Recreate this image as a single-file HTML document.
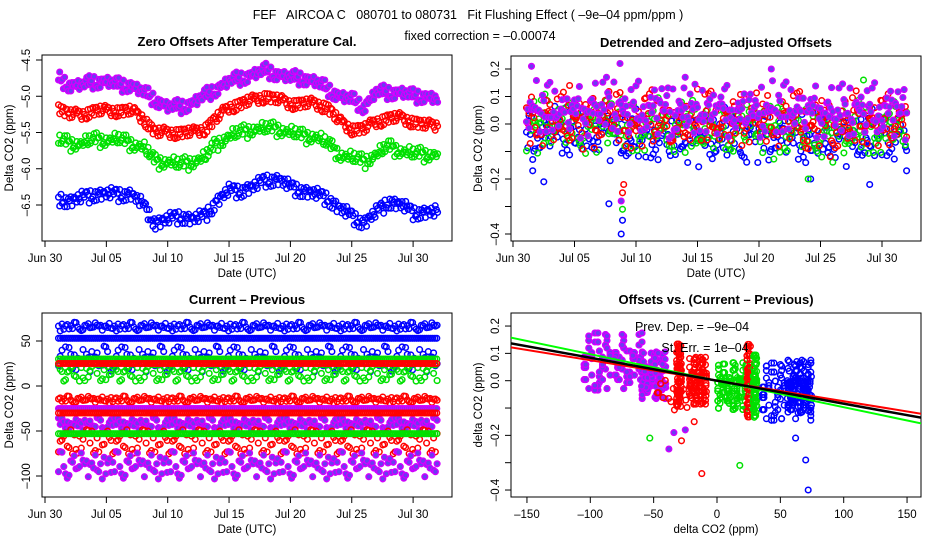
<!DOCTYPE html>
<html><head><meta charset="utf-8">
<style>
html,body{margin:0;padding:0;background:#fff;}
svg{display:block;font-family:"Liberation Sans",sans-serif;}
</style></head>
<body>
<svg id="c" width="936" height="540" viewBox="0 0 936 540" xmlns="http://www.w3.org/2000/svg">
<rect width="936" height="540" fill="#fff"/>
<text x="468" y="19" font-size="12.5" text-anchor="middle" xml:space="preserve">FEF   AIRCOA C   080701 to 080731   Fit Flushing Effect ( –9e–04 ppm/ppm )</text>
<text x="480" y="40" font-size="12.5" text-anchor="middle">fixed correction = –0.00074</text>
<g id="g1"></g>
<g id="g2"></g>
<g id="g3"></g>
<g id="g4"></g>
</svg>
<script>
// ---------- data ----------
const days = [1,2,3,4,5,6,7,8,9,10,11,12,13,14,15,16,17,18,19,20,21,22,23,24,25,26,27,28,29,30,31,32];
const p1Purple = [-4.75,-4.85,-4.85,-4.8,-4.8,-4.85,-4.85,-4.95,-5.05,-5.15,-5.15,-5.1,-5.0,-4.9,-4.8,-4.75,-4.7,-4.65,-4.7,-4.75,-4.75,-4.8,-4.9,-5.0,-5.05,-5.15,-4.95,-4.95,-4.95,-5.0,-5.0,-5.05];
const p1Red = [-5.15,-5.25,-5.25,-5.2,-5.2,-5.2,-5.2,-5.3,-5.5,-5.5,-5.5,-5.5,-5.45,-5.3,-5.15,-5.1,-5.05,-5.0,-5.05,-5.1,-5.1,-5.1,-5.15,-5.35,-5.45,-5.45,-5.35,-5.3,-5.3,-5.35,-5.4,-5.4];
const p1Green = [-5.6,-5.65,-5.65,-5.6,-5.6,-5.6,-5.65,-5.7,-5.9,-5.9,-5.95,-5.9,-5.85,-5.65,-5.55,-5.5,-5.45,-5.45,-5.45,-5.5,-5.55,-5.55,-5.65,-5.8,-5.85,-5.9,-5.8,-5.7,-5.75,-5.8,-5.8,-5.8];
const p1Blue = [-6.4,-6.45,-6.4,-6.35,-6.35,-6.35,-6.35,-6.5,-6.75,-6.7,-6.65,-6.7,-6.65,-6.45,-6.3,-6.3,-6.25,-6.15,-6.15,-6.25,-6.3,-6.35,-6.4,-6.55,-6.65,-6.75,-6.6,-6.45,-6.5,-6.6,-6.6,-6.6];
const p2Purple = [0.06,0.05,0.05,0.05,0.04,0.05,0.06,0.08,0.04,0.05,0.05,0.06,0.04,0.05,0.04,0.05,0.05,0.04,0.05,0.04,0.05,0.05,0.06,0.04,0.05,0.04,0.05,0.05,0.04,0.05,0.05,0.04];
const p2Red = [0.0,0.0,0.02,0.01,0.01,0.0,0.02,0.04,0.0,-0.02,0.03,0.03,-0.03,0.01,0.02,0.02,0.0,0.0,0.03,0.02,0.0,0.01,0.03,-0.03,0.02,-0.03,0.0,0.02,0.0,0.01,0.02,0.0];
const p2Green = [0.0,0.0,0.01,0.0,0.0,-0.02,0.0,0.02,-0.02,-0.02,-0.01,0.02,-0.04,0.0,-0.02,-0.02,-0.03,-0.02,0.0,0.0,-0.02,-0.03,0.0,-0.03,-0.03,-0.04,-0.02,-0.02,-0.03,-0.02,0.0,-0.02];
const p2Blue = [-0.04,-0.05,-0.02,-0.03,-0.03,-0.04,-0.03,-0.03,-0.06,-0.05,-0.06,-0.05,-0.06,-0.04,-0.05,-0.05,-0.05,-0.04,-0.05,-0.04,-0.05,-0.04,-0.05,-0.06,-0.05,-0.06,-0.05,-0.06,-0.05,-0.05,-0.05,-0.04];
const p2OutDay = [8.8,8.9,8.9,9.0,8.8,8.9,1.6,2.5,32,29,24.2,24,7.8,8.7,1.5,14,21,28.5,4.6];
const p2OutVal = [-0.4,-0.35,-0.31,-0.22,-0.28,-0.25,-0.17,-0.21,-0.17,-0.22,-0.2,-0.2,-0.29,0.22,0.21,0.17,0.2,0.16,0.14];
const p2OutSer = [3,3,2,1,0,1,3,3,3,3,3,2,3,0,0,0,0,2,1];
const p3Levels = [53,30,25,-25,-30,-53];
const p3LevelSer = [3,2,1,0,1,2];
const p3BandCenter = [66,30,15,-15,-42,-62,-88];
const p3BandSpread = [5,15,10,4,7,14,16];
const p3BandSer = [3,3,2,1,0,1,0];
const p4ClX = [-82,-50,-30,-15,-30,12,25,30,55,65];
const p4ClY = [0.07,0.02,0.02,0.0,-0.05,-0.02,0.0,-0.02,-0.04,-0.02];
const p4ClSx = [24,10,2,7,18,12,1.5,1.5,20,10];
const p4ClSy = [0.11,0.09,0.12,0.09,0.06,0.09,0.14,0.12,0.11,0.1];
const p4ClSer = [0,0,1,1,1,2,1,2,3,3];
const p4ClN = [170,80,70,110,20,150,60,60,120,80];
const p4OutX = [-12,18,-28,-38,-53,-34,72,70,62,-25,-18];
const p4OutY = [-0.34,-0.31,-0.22,-0.25,-0.21,-0.19,-0.4,-0.29,-0.21,-0.18,-0.15];
const p4OutSer = [1,2,1,0,2,0,3,3,3,0,1];
const fitSlope = [-0.00097,-0.00075,-0.00084];
const fitIcpt = [0.0,0.0,0.0];
const fitCol = ["#00ff00","#ff0000","#000000"];
const jit = [0.1,-0.7,0.45,-0.2,0.9,-0.95,0.3,-0.5,0.7,-0.1,0.55,-0.8,0.2,-0.35,0.85,-0.6,0.05,0.65,-0.45,0.35,-0.9,0.15,-0.25,0.95];
const xTickLabels = ["Jun 30","Jul 05","Jul 10","Jul 15","Jul 20","Jul 25","Jul 30"];
const xTickDays = [0,5,10,15,20,25,30];

const SER = [{s:"#d000ff",f:"#6a3cf0"},{s:"#ff0000",f:"none"},{s:"#00e000",f:"none"},{s:"#0000ff",f:"none"}];
const NS="http://www.w3.org/2000/svg";
function el(g,tag,at,txt){const e=document.createElementNS(NS,tag);for(const k in at)e.setAttribute(k,at[k]);if(txt!==undefined)e.textContent=txt;g.appendChild(e);return e;}
function J(i){return jit[((i%jit.length)+jit.length)%jit.length];}
function pt(g,cx,cy,ser,name){
  const c=el(g,"circle",{cx:cx.toFixed(1),cy:cy.toFixed(1),r:2.8,fill:SER[ser].f,stroke:SER[ser].s,"stroke-width":1.5});
  
  
}
function frame(g,L,R,T,B,title,xt,yt,xTicks,xLab,xfn,yTicks,yLab,yfn){
  const b=el(g,"rect",{x:L,y:T,width:R-L,height:B-T,fill:"none",stroke:"#000","stroke-width":1});
  
  const t=el(g,"text",{x:(L+R)/2,y:T-9,"font-size":13,"font-weight":"bold","text-anchor":"middle"},title);
  
  xTicks.forEach((v,i)=>{const x=xfn(v);
    el(g,"line",{x1:x,x2:x,y1:B,y2:B+6,stroke:"#000"});
    const l=el(g,"text",{x:x,y:B+21,"font-size":11.5,"text-anchor":"middle"},xLab[i]);
    });
  yTicks.forEach((v,i)=>{const y=yfn(v);
    el(g,"line",{x1:L-6,x2:L,y1:y,y2:y,stroke:"#000"});
    if(yLab[i]!==""){const l=el(g,"text",{x:0,y:0,"font-size":11.5,"text-anchor":"middle",transform:`translate(${L-12},${y}) rotate(-90)`},yLab[i]);
    }});
  const xa=el(g,"text",{x:(L+R)/2,y:B+36,"font-size":11.5,"text-anchor":"middle"},xt);
  
  const ya=el(g,"text",{x:0,y:0,"font-size":11.5,"text-anchor":"middle",transform:`translate(${L-29},${(T+B)/2}) rotate(-90)`},yt);
  
}
function interp(arr,d){const i=Math.max(0,Math.min(arr.length-2,Math.floor(d-1)));const f=Math.max(0,Math.min(1,d-1-i));return arr[i]*(1-f)+arr[i+1]*f;}

// ---------- panel 1 ----------
(function(){
  const g=document.getElementById("g1");
  const x=d=>45+d*12.27, y=v=>60+(-4.5-v)*72.5;
  frame(g,42,452,55,241,"Zero Offsets After Temperature Cal.","Date (UTC)","Delta CO2 (ppm)",
    xTickDays,xTickLabels,x,[-4.5,-5,-5.5,-6,-6.5],["–4.5","–5.0","–5.5","–6.0","–6.5"],y);
  [p1Blue,p1Green,p1Red,p1Purple].forEach((arr,si)=>{
    const ser=[3,2,1,0][si];
    for(let k=0;k<31*10;k++){const d=1.1+k/10; if(d>32)break;
      const v=interp(arr,d)+0.08*J(k*5+si*3)+0.04*J(k+si);
      pt(g,x(d),y(v),ser,'offset-point');}
  });
})();

// ---------- panel 2 ----------
(function(){
  const g=document.getElementById("g2");
  const x=d=>513+d*12.3, y=v=>124-v*275;
  frame(g,511,921,56,241,"Detrended and Zero–adjusted Offsets","Date (UTC)","Delta CO2 (ppm)",
    xTickDays,xTickLabels,x,[0.2,0.1,0,-0.1,-0.2,-0.3,-0.4],["0.2","0.1","0.0","","–0.2","","–0.4"],y);
  [p2Blue,p2Green,p2Red,p2Purple].forEach((arr,si)=>{
    const ser=[3,2,1,0][si];
    for(let k=0;k<31*10;k++){const d=1.1+k/10; if(d>32)break;
      const v=interp(arr,d)+0.07*J(k*7+si*5)+0.045*J(k*3+si+(k>>3));
      pt(g,x(d),y(v),ser,'detrended-point');}
  });
  p2OutDay.forEach((d,i)=>pt(g,x(d),y(p2OutVal[i]),p2OutSer[i],'outlier-point'));
})();

// ---------- panel 3 ----------
(function(){
  const g=document.getElementById("g3");
  const x=d=>45+d*12.27, y=v=>386-v*0.9;
  frame(g,42,452,313,497,"Current – Previous","Date (UTC)","Delta CO2 (ppm)",
    xTickDays,xTickLabels,x,[50,0,-50,-100],["50","0","–50","–100"],y);
  p3BandCenter.forEach((c,bi)=>{
    for(let k=0;k<31*7;k++){const d=1.1+k/7; if(d>32)break;
      pt(g,x(d),y(c+p3BandSpread[bi]*J(k*5+bi*7+(k>>2))),p3BandSer[bi],'difference-point');}
  });
  p3Levels.forEach((lv,li)=>{
    for(let k=0;k<31*6;k++){const d=1.1+k/6; if(d>32)break;
      pt(g,x(d),y(lv),p3LevelSer[li],'level-point');}
  });
})();

// ---------- panel 4 ----------
(function(){
  const g=document.getElementById("g4");
  const x=v=>717+v*1.267, y=v=>380.7-v*273.3;
  frame(g,511,921,313,497,"Offsets vs. (Current – Previous)","delta CO2 (ppm)","delta CO2 (ppm)",
    [-150,-100,-50,0,50,100,150],["–150","–100","–50","0","50","100","150"],x,
    [0.2,0.1,0,-0.1,-0.2,-0.3,-0.4],["0.2","0.1","0.0","","–0.2","","–0.4"],y);
  p4ClX.forEach((cx,ci)=>{
    for(let k=0;k<p4ClN[ci];k++){
      pt(g,x(cx+p4ClSx[ci]*J(k*7+ci)),y(p4ClY[ci]+p4ClSy[ci]*J(k*5+ci*3+(k>>2))),p4ClSer[ci],'scatter-point');}
  });
  p4OutX.forEach((v,i)=>pt(g,x(v),y(p4OutY[i]),p4OutSer[i],'outlier-point'));
  const cp=el(g,"clipPath",{id:"cp4"});el(cp,"rect",{x:511,y:313,width:410,height:184});
  fitSlope.forEach((s,i)=>{
    const l=el(g,"line",{x1:x(-170),y1:y(fitIcpt[i]+s*-170),x2:x(170),y2:y(fitIcpt[i]+s*170),stroke:fitCol[i],"stroke-width":i==2?2.5:2,"clip-path":"url(#cp4)"});
    
  });
  const t1=el(g,"text",{x:692,y:331,"font-size":12.5,"text-anchor":"middle"},"Prev. Dep. =  –9e–04");
  
  const t2=el(g,"text",{x:705,y:352,"font-size":12.5,"text-anchor":"middle"},"St. Err. =  1e–04");
  
})();
</script>
</body></html>
